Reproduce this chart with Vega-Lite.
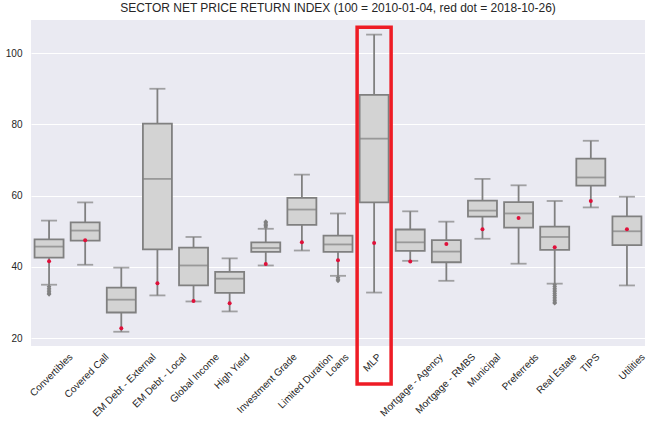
{
  "$schema": "https://vega.github.io/schema/vega-lite/v6.json",
  "autosize": {"type": "none"},
  "width": 614,
  "height": 326,
  "padding": {"left": 31, "top": 20, "right": 6, "bottom": 81},
  "background": "white",
  "config": {
    "font": "Liberation Sans",
    "view": {"fill": "#EAEAF2", "stroke": null},
    "axis": {"labelColor": "#262626", "labelFont": "Liberation Sans", "labelFontSize": 10, "domain": false, "ticks": false, "titleColor": "#262626"}
  },
  "title": {"text": "SECTOR NET PRICE RETURN INDEX (100 = 2010-01-04, red dot = 2018-10-26)", "fontSize": 12, "fontWeight": "normal", "color": "#262626", "font": "Liberation Sans", "offset": 5, "anchor": "middle"},
  "datasets": {
    "boxes": [
      {"sector": "Convertibles", "low": 35.0, "q1": 42.6, "median": 45.7, "q3": 47.7, "high": 53.0, "last": 41.6},
      {"sector": "Covered Call", "low": 40.6, "q1": 47.4, "median": 50.2, "q3": 52.5, "high": 58.1, "last": 47.5},
      {"sector": "EM Debt - External", "low": 21.8, "q1": 27.2, "median": 30.8, "q3": 34.2, "high": 39.8, "last": 22.8},
      {"sector": "EM Debt - Local", "low": 32.0, "q1": 44.9, "median": 64.7, "q3": 80.2, "high": 90.0, "last": 35.4},
      {"sector": "Global Income", "low": 30.3, "q1": 34.8, "median": 40.4, "q3": 45.4, "high": 48.4, "last": 30.4},
      {"sector": "High Yield", "low": 27.5, "q1": 32.7, "median": 36.7, "q3": 38.6, "high": 42.4, "last": 29.8},
      {"sector": "Investment Grade", "low": 40.4, "q1": 44.2, "median": 45.3, "q3": 46.9, "high": 50.7, "last": 40.8},
      {"sector": "Limited Duration", "low": 44.6, "q1": 51.8, "median": 56.1, "q3": 59.4, "high": 65.9, "last": 46.9},
      {"sector": "Loans", "low": 37.5, "q1": 44.2, "median": 46.3, "q3": 48.8, "high": 55.0, "last": 41.9},
      {"sector": "MLP", "low": 32.8, "q1": 58.1, "median": 76.0, "q3": 88.3, "high": 105.2, "last": 46.7},
      {"sector": "Mortgage - Agency", "low": 41.7, "q1": 44.5, "median": 46.9, "q3": 50.5, "high": 55.6, "last": 41.5},
      {"sector": "Mortgage - RMBS", "low": 36.1, "q1": 41.3, "median": 44.3, "q3": 47.5, "high": 52.7, "last": 46.4},
      {"sector": "Municipal", "low": 47.9, "q1": 54.1, "median": 55.8, "q3": 58.6, "high": 64.7, "last": 50.6},
      {"sector": "Preferreds", "low": 40.9, "q1": 51.0, "median": 55.0, "q3": 58.2, "high": 62.9, "last": 53.7},
      {"sector": "Real Estate", "low": 35.3, "q1": 44.8, "median": 48.4, "q3": 51.3, "high": 58.5, "last": 45.5},
      {"sector": "TIPS", "low": 56.7, "q1": 62.8, "median": 65.1, "q3": 70.4, "high": 75.4, "last": 58.5},
      {"sector": "Utilities", "low": 34.8, "q1": 46.1, "median": 50.0, "q3": 54.2, "high": 59.7, "last": 50.6}
    ],
    "outliers": [
      {"sector": "Convertibles", "value": 34.5}, {"sector": "Convertibles", "value": 34.0}, {"sector": "Convertibles", "value": 33.5},
      {"sector": "Convertibles", "value": 33.0}, {"sector": "Convertibles", "value": 32.6}, {"sector": "Convertibles", "value": 32.3},
      {"sector": "Investment Grade", "value": 51.2}, {"sector": "Investment Grade", "value": 51.6}, {"sector": "Investment Grade", "value": 52.0},
      {"sector": "Investment Grade", "value": 52.4}, {"sector": "Investment Grade", "value": 52.7},
      {"sector": "Loans", "value": 37.0}, {"sector": "Loans", "value": 36.5}, {"sector": "Loans", "value": 36.1},
      {"sector": "Real Estate", "value": 35.0}, {"sector": "Real Estate", "value": 34.5}, {"sector": "Real Estate", "value": 34.0},
      {"sector": "Real Estate", "value": 33.5}, {"sector": "Real Estate", "value": 33.0}, {"sector": "Real Estate", "value": 32.5},
      {"sector": "Real Estate", "value": 32.0}, {"sector": "Real Estate", "value": 31.5}, {"sector": "Real Estate", "value": 31.0},
      {"sector": "Real Estate", "value": 30.5}, {"sector": "Real Estate", "value": 30.1}, {"sector": "Real Estate", "value": 29.8}
    ],
    "highlight": [
      {"sector": "MLP", "top": 107.3, "bottom": 7.1}
    ]
  },
  "encoding": {
    "x": {
      "field": "sector", "type": "nominal", "title": null,
      "scale": {
        "domain": ["Convertibles", "Covered Call", "EM Debt - External", "EM Debt - Local", "Global Income", "High Yield", "Investment Grade", "Limited Duration", "Loans", "MLP", "Mortgage - Agency", "Mortgage - RMBS", "Municipal", "Preferreds", "Real Estate", "TIPS", "Utilities"],
        "paddingInner": 0.2, "paddingOuter": 0.1
      },
      "axis": {
        "labelAngle": -45, "labelAlign": "right", "labelBaseline": "middle", "labelPadding": 9, "grid": false,
        "labelOffset": {"expr": "1.84*length(datum.value)"}
      }
    }
  },
  "layer": [
    {
      "data": {"name": "boxes"},
      "mark": {"type": "rule", "color": "#808080", "strokeWidth": 1.8},
      "encoding": {
        "y": {"field": "low", "type": "quantitative", "title": null,
          "scale": {"domain": [17.8, 109.3], "nice": false, "zero": false},
          "axis": {"values": [20, 40, 60, 80, 100], "grid": true, "gridColor": "white", "gridWidth": 1, "labelPadding": 9}},
        "y2": {"field": "high"}
      }
    },
    {
      "data": {"name": "boxes"},
      "mark": {"type": "tick", "color": "#808080", "size": 16, "thickness": 1.8, "orient": "horizontal"},
      "encoding": {"y": {"field": "low", "type": "quantitative"}}
    },
    {
      "data": {"name": "boxes"},
      "mark": {"type": "tick", "color": "#808080", "size": 16, "thickness": 1.8, "orient": "horizontal"},
      "encoding": {"y": {"field": "high", "type": "quantitative"}}
    },
    {
      "data": {"name": "outliers"},
      "mark": {"type": "point", "shape": "diamond", "filled": true, "color": "#808080", "size": 22, "opacity": 1},
      "encoding": {"y": {"field": "value", "type": "quantitative"}}
    },
    {
      "data": {"name": "boxes"},
      "mark": {"type": "bar", "size": 29, "fill": "#D3D3D3", "stroke": "#808080", "strokeWidth": 1.8},
      "encoding": {
        "y": {"field": "q1", "type": "quantitative"},
        "y2": {"field": "q3"}
      }
    },
    {
      "data": {"name": "boxes"},
      "mark": {"type": "tick", "color": "#808080", "size": 29, "thickness": 1.8, "orient": "horizontal"},
      "encoding": {"y": {"field": "median", "type": "quantitative"}}
    },
    {
      "data": {"name": "boxes"},
      "mark": {"type": "point", "shape": "circle", "filled": true, "color": "#E0103A", "size": 16, "opacity": 1},
      "encoding": {"y": {"field": "last", "type": "quantitative"}}
    },
    {
      "data": {"name": "highlight"},
      "mark": {"type": "bar", "size": 34, "fill": "transparent", "stroke": "#EE1C25", "strokeWidth": 3.5, "clip": false},
      "encoding": {
        "y": {"field": "top", "type": "quantitative"},
        "y2": {"field": "bottom"}
      }
    }
  ]
}
